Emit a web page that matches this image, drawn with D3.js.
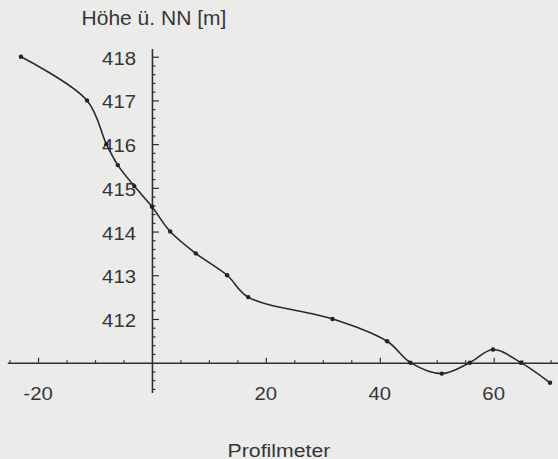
<!DOCTYPE html>
<html>
<head>
<meta charset="utf-8">
<script src="https://cdn.jsdelivr.net/npm/d3@7"></script>
<style>
  body { margin:0; background:#ebebea; }
  svg { display:block; }
  text { font-family:"Liberation Sans", Arial, sans-serif; fill:#363636; }
</style>
</head>
<body>
<script>
// profile points: distance (Profilmeter) and height above sea level
var profilX = [-23, -11.4, -8.0, -6.0, -3.1, 0, 3.2, 7.7, 13.2, 16.9, 31.7, 41.3, 45.4, 50.9, 55.8, 59.9, 64.8, 69.9];
var hoehe   = [418.0, 417.0, 416.0, 415.52, 415.04, 414.57, 414.0, 413.5, 413.0, 412.5, 412.0, 411.49, 411.0, 410.75, 411.0, 411.3, 411.0, 410.54];

var xTickLabels = [-20, 20, 40, 60];
var yTickLabels = [412, 413, 414, 415, 416, 417, 418];

var width = 558, height = 459;

var svg = d3.select("body").append("svg").attr("width",width).attr("height",height);

var x = d3.scaleLinear().domain([-25.4, 71.3]).range([7.3, 558]);
var y = d3.scaleLinear().domain([410.32, 418.19]).range([392.4, 48.4]);

var axisColor = "#2e2e2e";

// minor ticks
var xMinor = d3.range(-25, 71, 5).filter(function(d){ return d % 20 != 0; });
var yMinor = d3.range(4104, 4181, 2).map(function(d){ return d/10; }).filter(function(d){ return Math.abs(d - Math.round(d)) > 0.01; });

var xAxisG = svg.append("g").attr("transform","translate(0,"+y(411)+")");
xAxisG.call(d3.axisBottom(x).tickValues(xMinor).tickFormat("").tickSize(-2.5).tickSizeOuter(0));
xAxisG.append("g").call(d3.axisBottom(x).tickValues(xTickLabels).tickFormat("").tickSize(-5).tickSizeOuter(0))
      .select(".domain").remove();

var yAxisG = svg.append("g").attr("transform","translate("+x(0)+",0)");
yAxisG.call(d3.axisLeft(y).tickValues(yMinor).tickFormat("").tickSize(-3.5).tickSizeOuter(0));
yAxisG.append("g").call(d3.axisLeft(y).tickValues(yTickLabels).tickFormat("").tickSize(-7).tickSizeOuter(0))
      .select(".domain").remove();

svg.selectAll(".domain").attr("stroke",axisColor).attr("stroke-width",1.6);
svg.selectAll(".tick line").attr("stroke",axisColor).attr("stroke-width",1.2);

// tick labels (scan is a bit stretched horizontally)
svg.selectAll(".ylab").data(yTickLabels).enter().append("text")
    .attr("class","ylab")
    .attr("text-anchor","end")
    .attr("font-size",18)
    .attr("transform",function(d){ return "translate(136,"+(y(d)+8)+") scale(1.13,1)"; })
    .text(function(d){ return d; });

svg.selectAll(".xlab").data(xTickLabels).enter().append("text")
    .attr("class","xlab")
    .attr("text-anchor","middle")
    .attr("font-size",18)
    .attr("transform",function(d){ return "translate("+x(d)+",399.5) scale(1.13,1)"; })
    .text(function(d){ return d; });

svg.append("text")
    .attr("text-anchor","middle")
    .attr("font-size",21)
    .attr("x",x(0)+2).attr("y",25)
    .text("Höhe ü. NN [m]");

svg.append("text")
    .attr("text-anchor","middle")
    .attr("font-size",19)
    .attr("transform","translate(279,456.5) scale(1.12,1)")
    .text("Profilmeter");

// curve
var pts = profilX.map(function(d,i){ return [d, hoehe[i]]; });
var line = d3.line()
    .x(function(d){ return x(d[0]); })
    .y(function(d){ return y(d[1]); })
    .curve(d3.curveCatmullRom.alpha(0.5));

svg.append("path")
    .attr("d",line(pts))
    .attr("fill","none")
    .attr("stroke","#2a2a2a")
    .attr("stroke-width",1.6);

svg.selectAll(".pt").data(pts).enter().append("circle")
    .attr("class","pt")
    .attr("cx",function(d){ return x(d[0]); })
    .attr("cy",function(d){ return y(d[1]); })
    .attr("r",2.2)
    .attr("fill","#222");
</script>
</body>
</html>
